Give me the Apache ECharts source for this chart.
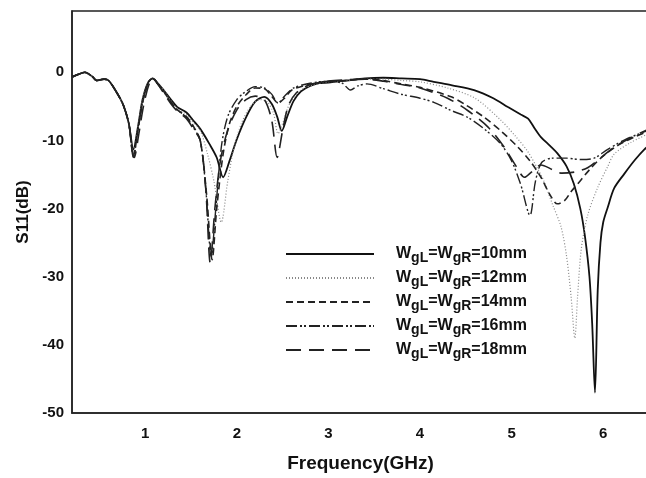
<!DOCTYPE html>
<html>
<head>
<meta charset="utf-8">
<script src="https://cdn.jsdelivr.net/npm/echarts@6/dist/echarts.min.js"></script>
<style>
  html, body { margin: 0; padding: 0; background: #fff; }
  #chart { width: 646px; height: 478px; }
</style>
</head>
<body>
<div id="chart"></div>
<script>
// series names (legend text) and tick labels
const names = ['WgL=WgR=10mm', 'WgL=WgR=12mm', 'WgL=WgR=14mm', 'WgL=WgR=16mm', 'WgL=WgR=18mm'];
const xTicks = [1, 2, 3, 4, 5, 6];
const yTicks = [-50, -40, -30, -20, -10, 0];

// shared low band part [GHz, dB]
const start = [[0.2,-0.7],[0.27,-0.3],[0.34,0],[0.42,-0.6],[0.47,-1.2],[0.55,-1.0],[0.6,-1.2],[0.69,-3.0],[0.76,-4.8],[0.82,-7.5]];

const w10 = [[0.87,-11.3],[0.92,-8],[0.97,-4],[1.03,-1.5],[1.08,-0.9],[1.13,-1.5],[1.2,-2.6],[1.28,-4],[1.35,-5.1],[1.45,-5.9],[1.52,-7],[1.6,-8.3],
  [1.7,-10.5],[1.78,-12.5],[1.85,-15.4],[1.92,-13],[2.0,-9.8],[2.1,-6.6],[2.2,-4.3],[2.3,-3.6],[2.38,-4.6],[2.44,-6.5],[2.49,-8.6],[2.55,-6.5],
  [2.62,-4.2],[2.7,-2.8],[2.8,-2.0],[2.9,-1.6],[3.0,-1.5],[3.2,-1.2],[3.4,-0.9],[3.6,-0.8],[3.8,-0.9],[4.0,-1.0],[4.15,-1.4],[4.35,-1.9],
  [4.59,-2.6],[4.8,-3.8],[4.96,-5.1],[5.1,-6.2],[5.18,-6.8],[5.25,-8.2],[5.32,-9.5],[5.42,-10.8],[5.5,-11.9],[5.6,-13.8],[5.68,-16.4],
  [5.75,-20],[5.8,-24],[5.85,-30],[5.88,-37],[5.91,-47],[5.94,-32],[5.97,-25],[6.0,-22],[6.05,-19.8],[6.12,-17],[6.23,-14.9],[6.35,-12.8],
  [6.45,-11.3],[6.5,-10.8]];

const w12 = [[0.87,-12],[0.92,-8],[0.97,-4],[1.03,-1.5],[1.08,-0.9],[1.13,-1.5],[1.2,-2.6],[1.28,-4.2],[1.35,-5.3],[1.45,-6.2],[1.52,-7.3],[1.6,-8.5],
  [1.68,-12],[1.75,-16],[1.83,-22],[1.9,-16],[1.97,-11],[2.05,-7.5],[2.15,-5],[2.25,-4],[2.33,-4.3],[2.4,-6],[2.45,-9],[2.5,-7.5],[2.58,-4.5],
  [2.7,-2.6],[2.85,-1.8],[3.0,-1.4],[3.2,-1.2],[3.4,-1.0],[3.6,-1.0],[3.8,-1.2],[4.0,-1.4],[4.3,-2.3],[4.6,-3.8],[4.88,-7],[5.05,-9.5],
  [5.17,-11.5],[5.27,-13.8],[5.35,-15.9],[5.45,-19.5],[5.54,-22.7],[5.6,-27],[5.65,-33],[5.69,-39],[5.72,-33],[5.76,-26],[5.83,-21],
  [5.94,-16.9],[6.05,-13.8],[6.12,-12],[6.3,-10.3],[6.5,-9]];

const w14 = [[0.87,-12.3],[0.92,-8.5],[0.97,-4.5],[1.03,-1.6],[1.08,-0.9],[1.13,-1.6],[1.2,-2.8],[1.28,-4.4],[1.35,-5.5],[1.45,-6.5],[1.52,-7.8],[1.6,-10],
  [1.67,-18],[1.73,-27.5],[1.78,-20],[1.85,-12],[1.92,-7.5],[2.0,-5],[2.1,-3.3],[2.2,-2.3],[2.3,-2.4],[2.38,-3.5],[2.45,-4.5],[2.52,-3.8],
  [2.6,-2.6],[2.75,-1.9],[2.9,-1.5],[3.0,-1.3],[3.2,-1.2],[3.4,-1.0],[3.6,-1.2],[3.79,-1.7],[4.0,-2.2],[4.34,-3.6],[4.5,-4.8],[4.7,-6.6],
  [4.9,-8.8],[5.07,-11],[5.2,-13],[5.32,-15.4],[5.42,-18],[5.5,-19.3],[5.58,-18.8],[5.65,-17.5],[5.72,-16.4],[5.85,-14.3],[5.98,-12.5],
  [6.15,-10.8],[6.34,-9.5],[6.5,-8.6]];

const w16 = [[0.87,-12.5],[0.92,-8.5],[0.97,-4.5],[1.03,-1.6],[1.08,-0.9],[1.13,-1.6],[1.2,-2.8],[1.28,-4.4],[1.35,-5.5],[1.45,-6.6],[1.52,-8],[1.6,-10],
  [1.66,-17],[1.72,-27],[1.77,-20],[1.83,-11],[1.9,-6.5],[2.0,-4],[2.1,-2.8],[2.2,-2.1],[2.3,-2.3],[2.38,-3.2],[2.45,-4.5],[2.52,-3.5],
  [2.62,-2.3],[2.8,-1.6],[3.0,-1.3],[3.15,-1.6],[3.24,-2.6],[3.32,-2],[3.42,-1.7],[3.6,-2.4],[3.79,-3.2],[4.0,-3.8],[4.15,-4.4],[4.34,-5.6],
  [4.52,-6.6],[4.7,-8.3],[4.88,-10.5],[5.0,-13],[5.1,-16.5],[5.2,-21],[5.26,-16],[5.33,-13.2],[5.45,-12.6],[5.6,-12.6],[5.75,-12.8],
  [5.9,-12.6],[6.05,-11.3],[6.25,-9.8],[6.5,-8.5]];

const w18 = [[0.88,-12.5],[0.93,-9],[0.98,-5],[1.04,-1.8],[1.09,-0.9],[1.14,-1.8],[1.2,-3],[1.28,-4.6],[1.35,-5.7],[1.45,-6.8],[1.52,-8.2],[1.6,-10],
  [1.66,-17],[1.71,-28],[1.76,-20],[1.82,-13],[1.9,-8.5],[2.0,-5.5],[2.1,-4],[2.2,-3.5],[2.3,-4],[2.38,-7],[2.44,-12.5],[2.5,-8.5],[2.56,-5],
  [2.65,-3],[2.8,-1.8],[3.0,-1.3],[3.2,-1.1],[3.4,-1.0],[3.6,-1.3],[3.8,-1.8],[4.0,-2.3],[4.3,-3.8],[4.52,-5.6],[4.74,-8],[4.92,-11],
  [5.05,-13.8],[5.14,-15.4],[5.22,-14.6],[5.32,-13.6],[5.45,-14.3],[5.55,-14.8],[5.7,-14.6],[5.83,-14],[5.95,-12.8],[6.12,-11],[6.3,-9.6],[6.5,-8.3]];

const curves = [w10, w12, w14, w16, w18];

const styles = [
  { color: '#111', width: 1.8, type: 'solid' },
  { color: '#888', width: 1.2, type: [1, 2] },
  { color: '#222', width: 1.6, type: [7, 4] },
  { color: '#222', width: 1.4, type: [11, 3, 2, 2, 2, 3] },
  { color: '#222', width: 1.6, type: [15, 8] }
];

const chart = echarts.init(document.getElementById('chart'));

const series = names.map((name, i) => ({
  name: name,
  type: 'line',
  symbol: 'none',
  smooth: 0.3,
  data: start.concat(curves[i]),
  lineStyle: styles[i],
  itemStyle: { color: styles[i].color }
}));

chart.setOption({
  animation: false,
  backgroundColor: '#fff',
  grid: {
    left: 72, width: 577, top: 11, bottom: 65,
    outerBoundsMode: 'none',
    show: true, borderColor: '#222', borderWidth: 1.5
  },
  legend: {
    orient: 'vertical',
    left: 285,
    top: 246,
    padding: 0,
    itemWidth: 88,
    itemHeight: 14,
    itemGap: 5,
    itemStyle: { opacity: 0 },
    data: names,
    formatter: (name) => {
      const mm = name.split('=')[2];
      return '{w|W}{s|gL}{w|=W}{s|gR}{w|=' + mm + '}';
    },
    textStyle: {
      padding: [0, 0, 0, 17],
      rich: {
        w: { fontFamily: 'Liberation Sans', fontWeight: 'bold', fontSize: 16, color: '#111' },
        s: { fontFamily: 'Liberation Sans', fontWeight: 'bold', fontSize: 14, color: '#111', padding: [8, 0, 0, 0] }
      }
    }
  },
  xAxis: {
    type: 'value',
    min: 0.2,
    max: 6.5,
    name: 'Frequency(GHz)',
    nameLocation: 'middle',
    nameGap: 41,
    nameTextStyle: { fontFamily: 'Liberation Sans', fontWeight: 'bold', fontSize: 19, color: '#111' },
    axisLine: { onZero: false, lineStyle: { color: '#222', width: 1.5 } },
    axisTick: { show: false },
    splitLine: { show: false },
    axisLabel: {
      margin: 13,
      fontFamily: 'Liberation Sans', fontWeight: 'bold', fontSize: 15, color: '#111',
      formatter: (v) => (xTicks.includes(v) ? String(v) : '')
    }
  },
  yAxis: {
    type: 'value',
    min: -50,
    max: 9,
    interval: 10,
    name: 'S11(dB)',
    nameLocation: 'middle',
    nameGap: 40,
    nameTextStyle: { fontFamily: 'Liberation Sans', fontWeight: 'bold', fontSize: 17, color: '#111' },
    axisLine: { show: true, onZero: false, lineStyle: { color: '#222', width: 1.5 } },
    axisTick: { show: false },
    splitLine: { show: false },
    axisLabel: {
      margin: 8,
      fontFamily: 'Liberation Sans', fontWeight: 'bold', fontSize: 15, color: '#111',
      formatter: (v) => (yTicks.includes(v) ? String(v) : '')
    }
  },
  series: series
});
</script>
</body>
</html>
